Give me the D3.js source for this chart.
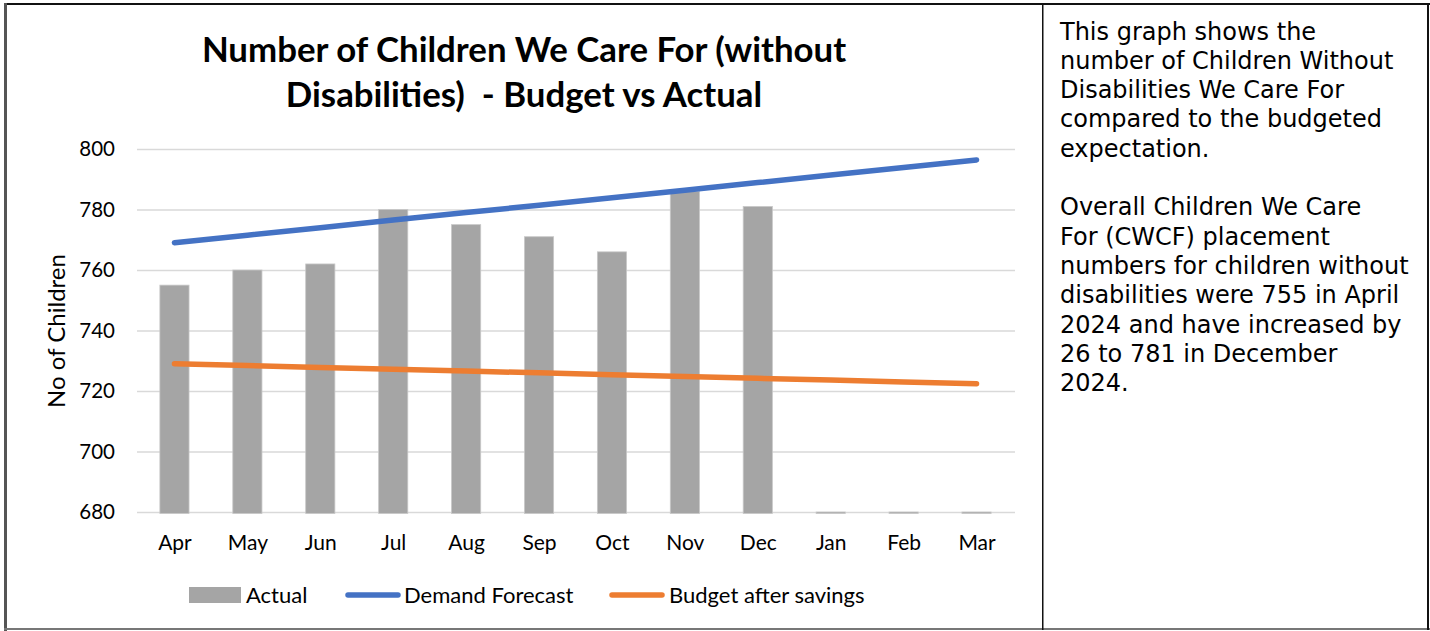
<!DOCTYPE html>
<html><head><meta charset="utf-8">
<script src="https://cdn.jsdelivr.net/npm/d3@7"></script>
<style>body{margin:0;background:#fff}svg{display:block}</style>
</head><body>
<script>
const months = ["Apr","May","Jun","Jul","Aug","Sep","Oct","Nov","Dec","Jan","Feb","Mar"];
const actual = [755,760,762,780,775,771,766,786,781,0,0,0];
const demandForecast = [769.0,771.5,774.0,776.5,779.0,781.4,783.9,786.4,788.9,791.4,793.9,796.4];
const budgetAfterSavings = [729.0,728.4,727.8,727.2,726.6,726.0,725.4,724.8,724.2,723.6,723.0,722.4];
const yTicks = [680,700,720,740,760,780,800];
const titleLines = ["Number of Children We Care For (without","Disabilities)  - Budget vs Actual"];
const yTitle = "No of Children";
const seriesNames = ["Actual","Demand Forecast","Budget after savings"];
const noteParas = [
 ["This graph shows the","number of Children Without","Disabilities We Care For","compared to the budgeted","expectation."],
 ["Overall Children We Care","For (CWCF) placement","numbers for children without","disabilities were 755 in April","2024 and have increased by","26 to 781 in December","2024."]
];

const W=1430,H=631;
const svg=d3.select("body").append("svg").attr("width",W).attr("height",H);
const font="Lato, 'Open Sans', sans-serif";

// borders
svg.append("rect").attr("x",4).attr("y",3).attr("width",1426).attr("height",2).attr("fill","#111");
svg.append("rect").attr("x",4).attr("y",3).attr("width",3).attr("height",628).attr("fill","#555");
svg.append("rect").attr("x",4).attr("y",628).attr("width",1426).attr("height",2).attr("fill","#777");
svg.append("rect").attr("x",1042).attr("y",4).attr("width",1.5).attr("height",626).attr("fill","#111");
svg.append("rect").attr("x",1427).attr("y",4).attr("width",2).attr("height",626).attr("fill","#111");

const x=d3.scaleBand().domain(months).range([138,1013]).paddingInner(0.6).paddingOuter(0.3);
const xc=d3.scalePoint().domain(months).range([138,1013]).padding(0.5);
const y=d3.scaleLinear().domain([680,800]).range([512,149]);

// gridlines
const yAxis=d3.axisLeft(y).tickValues(yTicks).tickSize(-(1015-137)).tickPadding(22);
const gy=svg.append("g").attr("transform","translate(137,0)").call(yAxis);
gy.select(".domain").remove();
gy.selectAll(".tick line").attr("stroke","#d9d9d9").attr("stroke-width",1.5);
gy.selectAll(".tick text").attr("font-family",font).attr("font-size",20.5).attr("fill","#000").attr("x",-22);

// bars
const bw=x.bandwidth();
svg.append("g").selectAll("rect").data(actual).join("rect")
 .attr("x",(d,i)=>xc(months[i])-bw/2)
 .attr("y",d=>y(Math.max(d,680)))
 .attr("width",bw)
 .attr("height",d=>y(680)-y(Math.max(d,680))+1.5)
 .attr("fill","#a5a5a5").attr("stroke","#c8c8c8").attr("stroke-width",0.8);

// x axis labels
const xAxis=d3.axisBottom(xc).tickSize(0).tickPadding(0);
const gx=svg.append("g").attr("transform","translate(0,535)").call(xAxis);
gx.select(".domain").remove();
gx.selectAll(".tick text").attr("font-family",font).attr("font-size",21).attr("fill","#000").attr("dy","0.71em");

// lines
const line=d3.line().x((d,i)=>xc(months[i])).y(d=>y(d));
svg.append("path").datum(demandForecast).attr("d",line).attr("fill","none").attr("stroke","#4472c4").attr("stroke-width",5.5).attr("stroke-linecap","round");
svg.append("path").datum(budgetAfterSavings).attr("d",line).attr("fill","none").attr("stroke","#ed7d31").attr("stroke-width",5.5).attr("stroke-linecap","round");

// title
svg.append("text").attr("font-family",font).attr("font-weight","bold").attr("font-size",34.8).attr("text-anchor","middle")
 .style("white-space","pre")
 .selectAll("tspan").data(titleLines).join("tspan").attr("x",524).attr("y",(d,i)=>62+i*45).text(d=>d);

// y title
svg.append("text").attr("transform","translate(65,331) rotate(-90)").attr("text-anchor","middle")
 .attr("font-family",font).attr("font-size",24).text(yTitle);

// legend
const lg=svg.append("g").attr("font-family",font).attr("font-size",22);
lg.append("rect").attr("x",189).attr("y",587).attr("width",52).attr("height",16).attr("fill","#a5a5a5");
lg.append("text").attr("x",246).attr("y",603).text(seriesNames[0]);
lg.append("line").attr("x1",348).attr("x2",398).attr("y1",595).attr("y2",595).attr("stroke","#4472c4").attr("stroke-width",5.5).attr("stroke-linecap","round");
lg.append("text").attr("x",404).attr("y",603).text(seriesNames[1]);
lg.append("line").attr("x1",612).attr("x2",662).attr("y1",595).attr("y2",595).attr("stroke","#ed7d31").attr("stroke-width",5.5).attr("stroke-linecap","round");
lg.append("text").attr("x",669).attr("y",603).text(seriesNames[2]);

// note text
const nt=svg.append("text").attr("font-family","'DejaVu Sans', Verdana, sans-serif").attr("font-size",24).attr("fill","#000");
let ly=39.5;
noteParas.forEach((p,pi)=>{
  p.forEach(l=>{nt.append("tspan").attr("x",1060).attr("y",ly).text(l); ly+=29.3;});
  ly+=29.3;
});
</script>
</body></html>
